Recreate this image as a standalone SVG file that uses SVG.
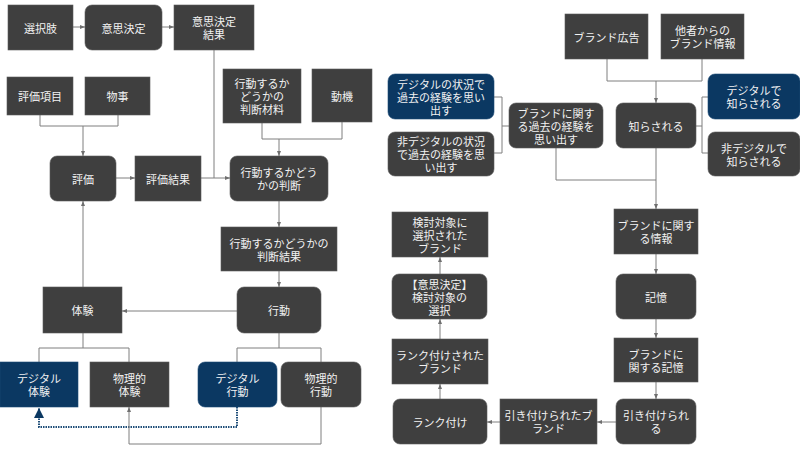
<svg xmlns="http://www.w3.org/2000/svg" width="800" height="450" viewBox="0 0 800 450">
<style>
.n{fill:#3f3f3f;stroke:#5a5a5a;stroke-width:0.6}
.b{fill:#0b3862;stroke:#1d4a75;stroke-width:0.6}
text{font-family:"Noto Sans CJK JP","Noto Sans",sans-serif;font-size:11px;fill:#f2f2f2;text-anchor:middle;dominant-baseline:central}
.c path{fill:none;stroke:#7f7f7f;stroke-width:1}
.c path.a{marker-end:url(#ar)}
.c path.bl{stroke:#1f4e79;stroke-width:2;stroke-dasharray:1.5 1;marker-end:url(#abl)}
</style>
<defs>
<marker id="ar" viewBox="0 0 10 10" refX="10" refY="5" markerWidth="5" markerHeight="5" orient="auto" markerUnits="userSpaceOnUse"><path d="M0,1 L10,5 L0,9 z" fill="#6f6f6f"/></marker>
<marker id="abl" viewBox="0 0 10 10" refX="10" refY="5" markerWidth="10" markerHeight="10" orient="auto" markerUnits="userSpaceOnUse"><path d="M0,0 L10,5 L0,10 z" fill="#0b3862"/></marker>
</defs>
<rect width="800" height="450" fill="#ffffff"/>
<g class="c" id="connectors">
<path class="a" d="M73,27 H85"/>
<path class="a" d="M162,27 H174"/>
<path d="M214,50 V178"/>
<path d="M40,115 V126 H118 V115"/>
<path class="a" d="M83,126 V156"/>
<path class="a" d="M116,178 H135"/>
<path class="a" d="M201,178 H230"/>
<path d="M262,123 V139 H342 V122"/>
<path class="a" d="M279,139 V156"/>
<path class="a" d="M279,201 V227"/>
<path class="a" d="M279,271 V287"/>
<path class="a" d="M237,311 H122"/>
<path class="a" d="M83,287 V201"/>
<path d="M83,333 V348"/>
<path d="M39,362 V348 H129 V362"/>
<path d="M279,333 V348"/>
<path d="M237,362 V348 H321 V362"/>
<path class="bl" d="M237,407 V427 H39 V408"/>
<path class="a" d="M321,407 V444 H129 V407"/>
<path d="M607,59 V81 H702 V59"/>
<path class="a" d="M656,81 V103"/>
<path d="M696,126 H702"/>
<path d="M708,97 H702 V153 H708"/>
<path d="M494,97 H502 V153 H494"/>
<path d="M502,126 H509"/>
<path d="M556,148 V180 H656"/>
<path class="a" d="M656,148 V209"/>
<path class="a" d="M656,254 V274"/>
<path class="a" d="M656,319 V338"/>
<path class="a" d="M656,382 V399"/>
<path class="a" d="M616,422 H597"/>
<path class="a" d="M500,422 H487"/>
<path class="a" d="M440,399 V384"/>
<path class="a" d="M440,339 V319"/>
<path class="a" d="M440,274 V257"/>
</g>
<g id="n1"><rect class="n" x="8" y="5" width="65" height="45"/><text x="40.5" y="27.5">選択肢</text></g>
<g id="n2"><rect class="n" x="85" y="5" width="77" height="45" rx="7"/><text x="123.5" y="27.5">意思決定</text></g>
<g id="n3"><rect class="n" x="174" y="5" width="80" height="45"/><text x="214" y="21"><tspan x="214">意思決定</tspan><tspan x="214" dy="13">結果</tspan></text></g>
<g id="n4"><rect class="n" x="7" y="77" width="66" height="38"/><text x="40" y="96">評価項目</text></g>
<g id="n5"><rect class="n" x="85" y="77" width="65" height="38"/><text x="117.5" y="96">物事</text></g>
<g id="n6"><rect class="n" x="223" y="69" width="78" height="54"/><text x="262" y="83"><tspan x="262">行動するか</tspan><tspan x="262" dy="13">どうかの</tspan><tspan x="262" dy="13">判断材料</tspan></text></g>
<g id="n7"><rect class="n" x="312" y="69" width="60" height="53"/><text x="342" y="95.5">動機</text></g>
<g id="n8"><rect class="n" x="50" y="156" width="66" height="45" rx="7"/><text x="83" y="178.5">評価</text></g>
<g id="n9"><rect class="n" x="135" y="156" width="66" height="45"/><text x="168" y="178.5">評価結果</text></g>
<g id="n10"><rect class="n" x="230" y="156" width="98" height="45" rx="7"/><text x="279" y="172"><tspan x="279">行動するかどう</tspan><tspan x="279" dy="13">かの判断</tspan></text></g>
<g id="n11"><rect class="n" x="221" y="227" width="116" height="44"/><text x="279" y="242.5"><tspan x="279">行動するかどうかの</tspan><tspan x="279" dy="13">判断結果</tspan></text></g>
<g id="n12"><rect class="n" x="43" y="287" width="79" height="46"/><text x="82.5" y="310">体験</text></g>
<g id="n13"><rect class="n" x="237" y="287" width="84" height="46" rx="7"/><text x="279" y="310">行動</text></g>
<g id="n14"><rect class="b" x="0" y="362" width="78" height="45"/><text x="39" y="378"><tspan x="39">デジタル</tspan><tspan x="39" dy="13">体験</tspan></text></g>
<g id="n15"><rect class="n" x="90" y="362" width="79" height="45"/><text x="129.5" y="378"><tspan x="129.5">物理的</tspan><tspan x="129.5" dy="13">体験</tspan></text></g>
<g id="n16"><rect class="b" x="198" y="362" width="79" height="45" rx="7"/><text x="237.5" y="378"><tspan x="237.5">デジタル</tspan><tspan x="237.5" dy="13">行動</tspan></text></g>
<g id="n17"><rect class="n" x="281" y="362" width="80" height="45" rx="7"/><text x="321" y="378"><tspan x="321">物理的</tspan><tspan x="321" dy="13">行動</tspan></text></g>
<g id="n18"><rect class="n" x="565" y="14" width="83" height="45"/><text x="606.5" y="36.5">ブランド広告</text></g>
<g id="n19"><rect class="n" x="661" y="14" width="83" height="45"/><text x="702.5" y="30"><tspan x="702.5">他者からの</tspan><tspan x="702.5" dy="13">ブランド情報</tspan></text></g>
<g id="n20"><rect class="b" x="388" y="74" width="106" height="45" rx="7"/><text x="441" y="83.5"><tspan x="441">デジタルの状況で</tspan><tspan x="441" dy="13">過去の経験を思い</tspan><tspan x="441" dy="13">出す</tspan></text></g>
<g id="n21"><rect class="n" x="388" y="132" width="106" height="44" rx="7"/><text x="441" y="141"><tspan x="441">非デジタルの状況</tspan><tspan x="441" dy="13">で過去の経験を思</tspan><tspan x="441" dy="13">い出す</tspan></text></g>
<g id="n22"><rect class="n" x="509" y="103" width="94" height="45" rx="7"/><text x="556" y="112.5"><tspan x="556">ブランドに関す</tspan><tspan x="556" dy="13">る過去の経験を</tspan><tspan x="556" dy="13">思い出す</tspan></text></g>
<g id="n23"><rect class="n" x="616" y="103" width="80" height="45" rx="7"/><text x="656" y="125.5">知らされる</text></g>
<g id="n24"><rect class="b" x="708" y="74" width="92" height="45" rx="7"/><text x="754" y="90"><tspan x="754">デジタルで</tspan><tspan x="754" dy="13">知らされる</tspan></text></g>
<g id="n25"><rect class="n" x="708" y="132" width="92" height="44" rx="7"/><text x="754" y="147.5"><tspan x="754">非デジタルで</tspan><tspan x="754" dy="13">知らされる</tspan></text></g>
<g id="n26"><rect class="n" x="614" y="209" width="84" height="45"/><text x="656" y="225"><tspan x="656">ブランドに関す</tspan><tspan x="656" dy="13">る情報</tspan></text></g>
<g id="n27"><rect class="n" x="616" y="274" width="80" height="45" rx="7"/><text x="656" y="296.5">記憶</text></g>
<g id="n28"><rect class="n" x="614" y="338" width="84" height="44"/><text x="656" y="353.5"><tspan x="656">ブランドに</tspan><tspan x="656" dy="13">関する記憶</tspan></text></g>
<g id="n29"><rect class="n" x="616" y="399" width="80" height="45" rx="7"/><text x="656" y="415"><tspan x="656">引き付けられ</tspan><tspan x="656" dy="13">る</tspan></text></g>
<g id="n30"><rect class="n" x="500" y="399" width="97" height="45"/><text x="548.5" y="415"><tspan x="548.5">引き付けられたブ</tspan><tspan x="548.5" dy="13">ランド</tspan></text></g>
<g id="n31"><rect class="n" x="393" y="399" width="94" height="45" rx="7"/><text x="440" y="421.5">ランク付け</text></g>
<g id="n32"><rect class="n" x="392" y="339" width="96" height="45"/><text x="440" y="355"><tspan x="440">ランク付けされた</tspan><tspan x="440" dy="13">ブランド</tspan></text></g>
<g id="n33"><rect class="n" x="392" y="274" width="95" height="45" rx="7"/><text x="439.5" y="283.5"><tspan x="439.5">【意思決定】</tspan><tspan x="439.5" dy="13">検討対象の</tspan><tspan x="439.5" dy="13">選択</tspan></text></g>
<g id="n34"><rect class="n" x="392" y="212" width="96" height="45"/><text x="440" y="221.5"><tspan x="440">検討対象に</tspan><tspan x="440" dy="13">選択された</tspan><tspan x="440" dy="13">ブランド</tspan></text></g>
</svg>
